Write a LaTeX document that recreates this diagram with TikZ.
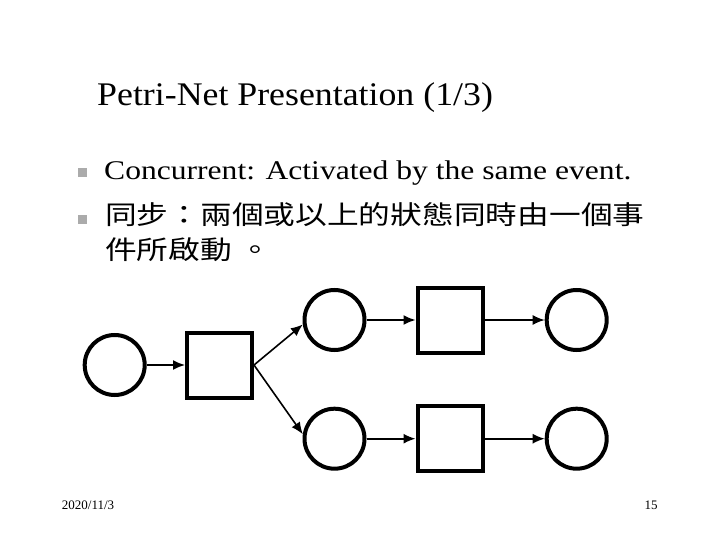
\documentclass[tikz,border=0pt]{standalone}
\usepackage{fontspec}
\setmainfont{Liberation Serif}
\newfontfamily\titlefont[FakeStretch=1.085]{Liberation Serif}
\newfontfamily\bodyfont[FakeStretch=1.17]{Liberation Serif}
\newfontfamily\cjk[FakeStretch=1.22]{Noto Sans CJK TC}
\usetikzlibrary{arrows.meta}
\tikzset{
  place/.style={circle, draw, line width=4pt, minimum size=60pt, inner sep=0pt},
  trans/.style={rectangle, draw, line width=4pt, minimum size=65pt, inner sep=0pt},
  arc/.style={line width=1.6pt, -{Latex[length=12pt,width=10pt]}},
  bulletmark/.style={rectangle, fill=black!33, minimum size=9pt, inner sep=0pt},
  txt/.style={anchor=base west, inner sep=0pt}
}
\begin{document}
\begin{tikzpicture}[x=1pt,y=-1pt]
\useasboundingbox (0,0) rectangle (720,540);
% title
\node[txt] (title) at (97,106) {\titlefont\fontsize{33}{36}\selectfont Petri-Net Presentation (1/3)};
% bullets
\node[bulletmark] (b1) at (82.8,172.3) {};
\node[bulletmark] (b2) at (82.8,219.5) {};
\node[txt] (l1) at (104,180) {\bodyfont\fontsize{27}{30}\selectfont Concurrent: Activated by the same event.};
\node[txt] (l2) at (105,225) {\cjk\fontsize{26}{30}\selectfont 同步：兩個或以上的狀態同時由一個事};
\node[txt] (l3) at (105,259) {\cjk\fontsize{26}{30}\selectfont 件所啟動 。};
% net
\node[place] (p0) at (114.7,365) {};
\node[trans] (t0) at (219.5,365) {};
\node[place] (p1) at (334.5,320) {};
\node[place] (p2) at (334.5,438.7) {};
\node[trans] (t1) at (450,320) {};
\node[trans] (t2) at (450,438.7) {};
\node[place] (p3) at (576.7,320) {};
\node[place] (p4) at (576.7,438.7) {};
\draw[arc] (p0) -- (t0);
\draw[arc] (t0.east) -- (p1.188);
\draw[arc] (t0.east) -- (p2.172);
\draw[arc] (p1) -- (t1);
\draw[arc] (t1) -- (p3);
\draw[arc] (p2) -- (t2);
\draw[arc] (t2) -- (p4);
% footer
\node[txt] (date) at (61.7,509.3) {\fontsize{13}{15}\selectfont 2020/11/3};
\node[anchor=base east, inner sep=0pt] (page) at (657.7,509.3) {\fontsize{13}{15}\selectfont 15};
\end{tikzpicture}
\end{document}
